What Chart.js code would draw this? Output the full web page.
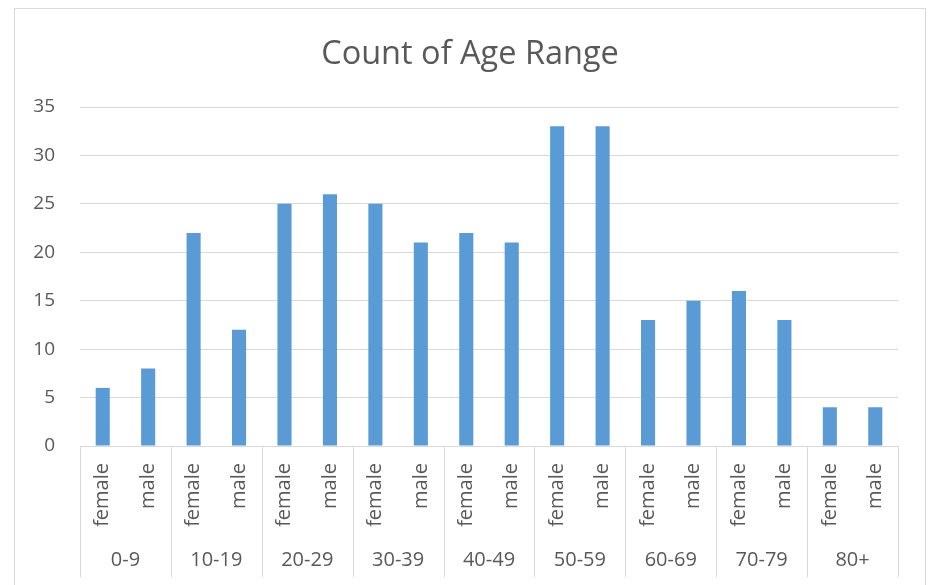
<!DOCTYPE html>
<html>
<head>
<meta charset="utf-8">
<script src="https://cdn.jsdelivr.net/npm/chart.js@4/dist/chart.umd.min.js"></script>
<style>
  html, body { margin: 0; padding: 0; background: #ffffff; }
  #wrap { width: 932px; height: 585px; position: relative; }
</style>
</head>
<body>
<div id="wrap"><canvas id="c" width="932" height="585"></canvas></div>
<script>
const chartTitle = 'Count of Age Range';
const ageGroups = ['0-9', '10-19', '20-29', '30-39', '40-49', '50-59', '60-69', '70-79', '80+'];
const genders = ['female', 'male'];
const femaleCounts = [6, 22, 25, 25, 22, 33, 13, 16, 4];
const maleCounts = [8, 12, 26, 21, 21, 33, 15, 13, 4];
const yMin = 0, yMax = 35, yStep = 5;

const labels = [];
const values = [];
ageGroups.forEach((g, i) => {
  labels.push(genders[0]); values.push(femaleCounts[i]);
  labels.push(genders[1]); values.push(maleCounts[i]);
});

const TEXT = '#595959';
const GRID = '#D9D9D9';
const FONT = '"Open Sans", "DejaVu Sans", sans-serif';

const groupPlugin = {
  id: 'groupPlugin',
  beforeDraw(chart) {
    const ctx = chart.ctx;
    ctx.save();
    ctx.fillStyle = '#ffffff';
    ctx.fillRect(0, 0, chart.width, chart.height);
    ctx.strokeStyle = GRID;
    ctx.lineWidth = 1;
    ctx.strokeRect(14.5, 8.5, 911, 700);
    ctx.fillStyle = TEXT;
    ctx.font = '32.5px ' + FONT;
    ctx.textAlign = 'center';
    ctx.textBaseline = 'middle';
    ctx.fillText(chartTitle, 470, 55);
    ctx.restore();
  },
  afterDraw(chart) {
    const ctx = chart.ctx;
    const x = chart.scales.x;
    const area = chart.chartArea;
    const bottomY = area.bottom;
    const lineEnd = 577;
    ctx.save();
    ctx.strokeStyle = GRID;
    ctx.lineWidth = 1;
    const bounds = [];
    for (let i = 0; i <= ageGroups.length; i++) {
      let px;
      if (i === 0) px = x.left;
      else if (i === ageGroups.length) px = x.right;
      else px = (x.getPixelForValue(2 * i - 1) + x.getPixelForValue(2 * i)) / 2;
      bounds.push(px);
      const rx = Math.round(px) + 0.5;
      ctx.beginPath();
      ctx.moveTo(rx, bottomY);
      ctx.lineTo(rx, lineEnd);
      ctx.stroke();
    }
    ctx.fillStyle = TEXT;
    ctx.font = '20px ' + FONT;
    ctx.textAlign = 'center';
    ctx.textBaseline = 'middle';
    ageGroups.forEach((g, i) => {
      ctx.fillText(g, (bounds[i] + bounds[i + 1]) / 2, 560);
    });
    ctx.restore();
  }
};

new Chart(document.getElementById('c'), {
  type: 'bar',
  data: {
    labels: labels,
    datasets: [{
      data: values,
      backgroundColor: '#5B9BD5',
      borderWidth: 0,
      categoryPercentage: 1.0,
      barPercentage: 0.31
    }]
  },
  options: {
    responsive: false,
    animation: false,
    devicePixelRatio: 1,
    layout: { padding: { left: 0, right: 34, top: 107, bottom: 0 } },
    plugins: {
      legend: { display: false },
      tooltip: { enabled: false },
      title: { display: false }
    },
    scales: {
      x: {
        type: 'category',
        grid: { display: false, drawTicks: false },
        border: { display: true, color: GRID, width: 1 },
        ticks: {
          autoSkip: false,
          minRotation: 90,
          maxRotation: 90,
          padding: 17,
          color: TEXT,
          font: { family: FONT, size: 20 }
        },
        afterFit(scale) { scale.height = 139; }
      },
      y: {
        min: yMin,
        max: yMax,
        ticks: {
          stepSize: yStep,
          padding: 25,
          color: TEXT,
          font: { family: FONT, size: 19 }
        },
        grid: { color: GRID, lineWidth: 1, drawTicks: false },
        border: { display: false },
        afterFit(scale) { scale.width = 80; }
      }
    }
  },
  plugins: [groupPlugin]
});
</script>
</body>
</html>
